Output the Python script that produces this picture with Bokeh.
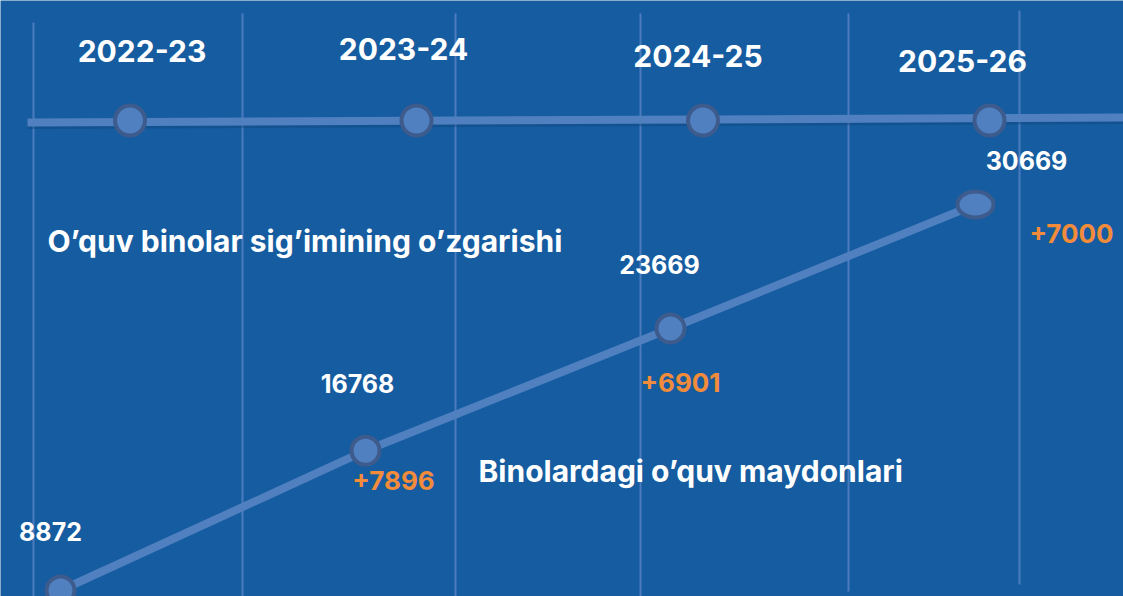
from bokeh.plotting import figure
from bokeh.models import Range1d
from bokeh.core.properties import value
from bokeh.embed import file_html
from bokeh.resources import INLINE

# ---- data ----
years = ["2022-23", "2023-24", "2024-25", "2025-26"]
capacity = [8872, 16768, 23669, 30669]
increase = [None, 7896, 6901, 7000]
caption_top = "O’quv binolar sig’imining o’zgarishi"
caption_bottom = "Binolardagi o’quv maydonlari"

# ---- style ----
W, H = 1123, 596
BG = "#165ca0"
LINE = "#5080bf"
RING = "#3d5b8c"
GRID = "#4a7cbd"
SHADOW = "#0f3f72"
ORANGE = "#f28c3a"
FONT = value("Inter")

idx = list(range(len(years)))

p = figure(width=W, height=H, output_backend="svg", toolbar_location=None,
           x_range=Range1d(-0.45201, 3.46771), y_range=Range1d(8533.2, 42188.6),
           x_axis_type=None, y_axis_type=None, min_border=0,
           background_fill_color=BG, border_fill_color=BG,
           outline_line_color=None)
p.grid.visible = False
p.extra_x_ranges = {"vals": Range1d(-0.19672, 3.48525), "px": Range1d(0, W)}
p.extra_y_ranges = {"px": Range1d(H, 0)}

# decorative vertical guide lines (page layout, screen-like coordinates)
gx = [33, 242, 455, 640, 848, 1019]
gtop = [22, 13, 13, 13, 13, 10]
gbot = [600, 600, 600, 600, 591, 584]
p.segment(x0=gx, y0=gtop, x1=gx, y1=gbot, x_range_name="px", y_range_name="px",
          line_color=GRID, line_width=2)

# top timeline track
TRACK_Y = 120
p.segment(x0=[27], y0=[125], x1=[1125], y1=[120], x_range_name="px", y_range_name="px",
          line_color=SHADOW, line_width=7, line_alpha=0.35)
p.segment(x0=[27], y0=[122], x1=[1125], y1=[117], x_range_name="px", y_range_name="px",
          line_color=LINE, line_width=8)
p.scatter(idx, [TRACK_Y] * len(idx), y_range_name="px", size=30,
          fill_color=LINE, line_color=RING, line_width=4)
p.text(idx, [TRACK_Y] * len(idx), text=years, y_range_name="px",
       x_offset=[12, -13, -5, -27], y_offset=[-70, -72, -65, -60],
       text_align="center", text_baseline="middle", text_color="white",
       text_font=FONT, text_font_style="bold", text_font_size="30px")

# capacity line
p.line(idx, capacity, x_range_name="vals", line_color=LINE, line_width=8)
p.ellipse(idx, capacity, x_range_name="vals",
          width=[28, 28, 28, 36], height=[28, 28, 28, 26],
          width_units="screen", height_units="screen",
          fill_color=LINE, line_color=RING, line_width=4)
p.text(idx, capacity, text=[str(v) for v in capacity], x_range_name="vals",
       x_offset=[-10, -8, -11, 51], y_offset=[-59, -67, -64, -44],
       text_align="center", text_baseline="middle", text_color="white",
       text_font=FONT, text_font_style="bold", text_font_size="25px")

inc_idx = [i for i, d in enumerate(increase) if d is not None]
p.text([idx[i] for i in inc_idx], [capacity[i] for i in inc_idx],
       text=["+" + str(increase[i]) for i in inc_idx], x_range_name="vals",
       x_offset=[28, 10, 96], y_offset=[30, 54, 29],
       text_align="center", text_baseline="middle", text_color=ORANGE,
       text_font=FONT, text_font_style="bold", text_font_size="26px")

# captions
p.text([47], [240], text=[caption_top], x_range_name="px", y_range_name="px",
       text_align="left", text_baseline="middle", text_color="white",
       text_font=FONT, text_font_style="bold", text_font_size="30px")
p.text([478], [470], text=[caption_bottom], x_range_name="px", y_range_name="px",
       text_align="left", text_baseline="middle", text_color="white",
       text_font=FONT, text_font_style="bold", text_font_size="30px")

open("out.html", "w").write(file_html(p, INLINE))
